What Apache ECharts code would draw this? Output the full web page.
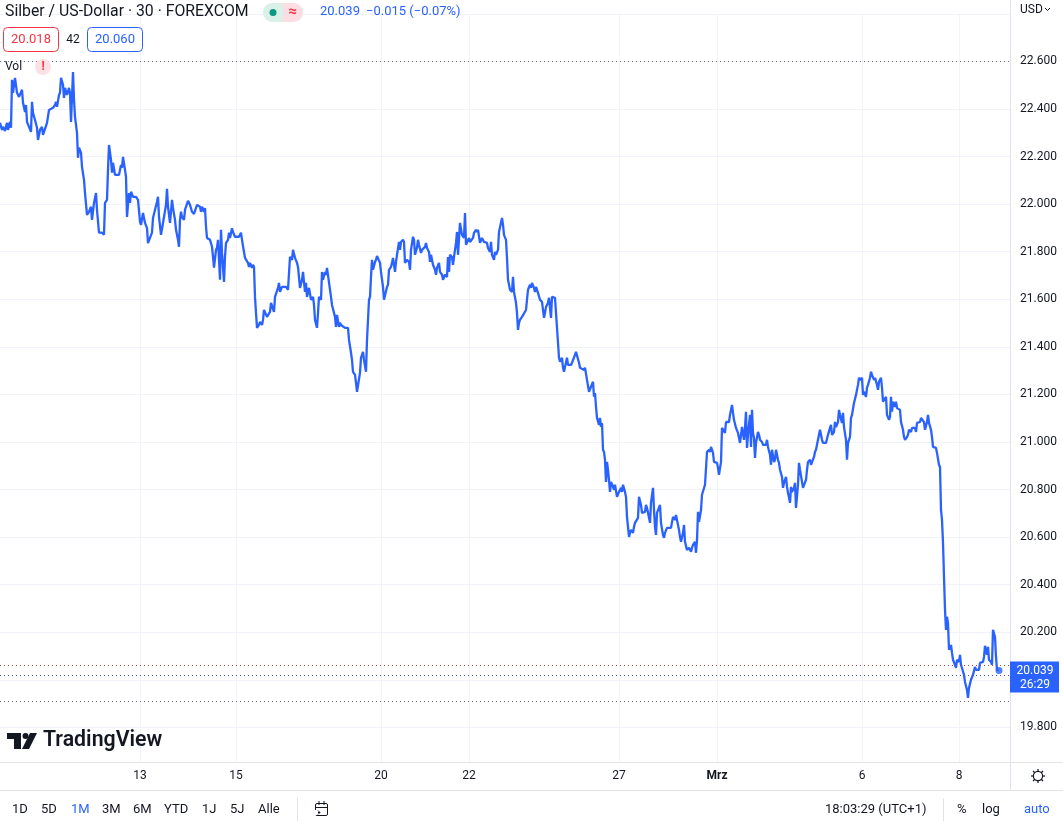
<!DOCTYPE html>
<html>
<head>
<meta charset="utf-8">
<script src="https://cdn.jsdelivr.net/npm/echarts@6/dist/echarts.min.js"></script>
<style>
html,body{margin:0;padding:0;background:#fff;}
#one{width:1063px;height:821px;}
</style>
</head>
<body>
<div id="one"></div>
<script>
// 30-Minuten-Kerzen, Index = Kerzennummer ab Chartbeginn
var barIdx = [
  0,2,3,5,7,8,10,11,12,13,15,16,17,19,22,23,25,26,27,29,31,32,33,35,37,38,40,42,43,45,47,49,51,53,55,56,57,59,60,61,63,64,65,67,69,70,71,73,74,75,77,78,79,81,82,84,85,87,89,91,92,94,96,97,99,102,104,105,107,108,109,111,112,113,115,117,119,121,122,123,125,126,127,129,130,131,133,136,138,140,141,143,
  145,147,148,150,152,153,155,157,158,159,161,162,164,166,167,168,170,171,172,173,175,176,178,179,180,181,182,184,185,186,188,190,192,194,195,197,198,200,201,202,204,205,206,207,208,210,212,213,214,216,217,218,220,221,222,224,225,226,228,229,230,232,233,235,237,239,241,242,244,245,246,248,249,250,252,253,254,255,256,257,259,260,262,263,264,266,267,268,270,271,272,274,275,276,278,279,280,282,284,286,288,
  290,292,293,295,297,298,300,302,303,305,306,307,309,310,311,313,314,315,317,318,319,321,322,323,325,326,327,329,331,332,333,335,336,337,339,340,341,343,345,348,349,351,352,353,355,356,357,359,360,361,363,364,366,367,369,370,371,372,373,375,376,377,379,380,381,383,384,385,387,388,389,391,392,393,395,396,397,399,400,401,403,404,405,407,409,410,411,413,414,415,417,418,419,421,422,423,425,426,427,429,430,431,433,435,436,437,439,
  440,442,443,445,447,448,449,450,452,453,454,456,457,458,460,461,462,464,465,466,468,469,470,472,473,474,476,477,478,480,481,482,484,485,487,488,490,491,492,494,495,496,498,499,500,502,503,504,506,507,508,509,510,512,513,514,516,517,518,519,520,522,523,524,526,527,528,530,531,532,534,535,536,538,539,540,542,543,544,545,546,548,549,550,551,552,554,555,556,558,559,560,562,563,564,566,567,568,570,571,572,574,575,576,578,579,580,582,584,
  585,586,587,589,590,591,593,594,595,596,597,599,600,601,602,603,604,605,606,607,608,609,610,611,613,614,615,617,618,619,621,622,623,625,626,627,629,630,631,633,634,635,637,638,639,641,642,643,645,646,647,649,650,651,653,654,655,656,657,659,660,661,663,664,665,667,669,671,672,673,675,676,677,679,680,681,683,684,685,687,688,689,691,692,693,695,696,697,698,699,701,702,703,705,706,707,709,710,711,713,714,715,717,718,719,721,722,723,725,726,
  727,729,730,732,733,734,736,737,738,740,741,742,744,745,746,747,748,750,751,752,753,754,755,756,758,759,760,762,763,764,766,767,768,770,771,772,774,775,776,778,779,780,782,783,784,786,787,788,790,791,792,794,795,796,798,799,800,802,803,804,806,807,808,810,811,812,814,815,816,818,819,820,822,823,824,826,827,828,830,831,832,834,835,836,838,839,840,842,843,844,846,847,848,850,851,852,854,855,856,858,859,860,862,863,864,866,867,868,870,871,872,874,
  875,877,878,879,881,882,883,885,886,887,889,890,891,892,893,895,896,897,899,900,901,903,904,905,907,908,909,911,912,913,915,916,917,919,920,921,923,924,925,927,928,929,931,932,933,935,936,937,939,940,941,942,943,944,945,946,947,948,949,951,952,953,955,956,957,959,960,961,963,964,965,967,968,969,971,972,973,975,976,977,979,980,981,983,984,985,987,988,989,991,992,993,995,996,997,999
];
var prices = [
  22.342,22.312,22.325,22.308,22.342,22.312,22.346,22.321,22.523,22.468,22.531,22.535,22.468,22.451,22.481,22.426,22.388,22.417,22.346,22.354,22.304,22.430,22.384,22.354,22.321,22.270,22.312,22.325,22.291,22.283,22.342,22.396,22.388,22.405,22.417,22.430,22.409,22.459,22.468,22.531,22.502,22.447,22.489,22.459,22.489,22.468,22.346,22.556,22.439,22.367,22.300,22.195,22.237,22.216,22.157,22.102,22.047,21.955,21.968,21.989,21.934,22.005,22.047,21.976,21.880,21.880,21.871,22.005,22.018,22.144,22.249,22.186,22.132,22.174,22.123,22.123,22.123,22.165,22.153,22.199,22.144,22.115,21.946,22.047,22.005,22.052,22.031,22.031,22.018,21.926,21.913,21.963,
  21.921,21.899,21.836,21.828,21.880,21.942,21.946,22.010,22.031,21.946,21.871,21.863,21.946,21.997,22.064,21.989,21.921,21.913,22.018,21.984,21.934,21.892,21.850,21.821,21.934,21.968,21.946,21.934,21.976,21.989,22.014,21.997,21.968,21.959,21.955,21.997,22.005,21.989,21.968,21.989,21.968,21.984,21.905,21.858,21.863,21.850,21.821,21.779,21.733,21.808,21.817,21.850,21.682,21.892,21.795,21.673,21.779,21.836,21.850,21.880,21.858,21.899,21.883,21.863,21.871,21.863,21.880,21.850,21.799,21.774,21.766,21.753,21.736,21.753,21.732,21.745,21.736,21.610,21.543,21.480,21.492,21.505,21.492,21.513,21.555,21.547,21.526,21.526,21.547,21.585,21.589,21.547,21.610,21.610,21.648,21.669,21.631,21.652,21.648,21.652,21.640,
  21.778,21.766,21.808,21.774,21.753,21.736,21.648,21.682,21.715,21.631,21.669,21.610,21.648,21.640,21.598,21.610,21.576,21.513,21.480,21.543,21.610,21.598,21.715,21.682,21.715,21.703,21.732,21.724,21.610,21.576,21.568,21.526,21.484,21.534,21.484,21.501,21.492,21.484,21.480,21.480,21.429,21.375,21.345,21.295,21.282,21.249,21.211,21.219,21.291,21.354,21.379,21.345,21.295,21.429,21.598,21.610,21.694,21.766,21.724,21.757,21.766,21.782,21.774,21.753,21.715,21.652,21.598,21.606,21.652,21.661,21.724,21.736,21.753,21.774,21.715,21.757,21.787,21.841,21.808,21.841,21.850,21.841,21.753,21.766,21.757,21.724,21.808,21.863,21.850,21.787,21.817,21.850,21.829,21.795,21.808,21.808,21.820,21.837,21.816,21.799,21.757,21.787,21.745,21.724,21.703,21.732,21.753,
  21.715,21.703,21.682,21.703,21.694,21.778,21.715,21.787,21.778,21.745,21.778,21.837,21.883,21.787,21.921,21.921,21.871,21.858,21.963,21.829,21.837,21.858,21.841,21.841,21.858,21.879,21.892,21.883,21.892,21.837,21.841,21.858,21.841,21.841,21.837,21.816,21.799,21.841,21.787,21.766,21.799,21.787,21.808,21.883,21.879,21.942,21.913,21.871,21.850,21.774,21.682,21.661,21.640,21.631,21.694,21.631,21.585,21.543,21.471,21.501,21.513,21.526,21.522,21.526,21.555,21.598,21.640,21.661,21.648,21.669,21.648,21.631,21.652,21.627,21.631,21.598,21.589,21.555,21.522,21.543,21.568,21.585,21.606,21.610,21.522,21.610,21.606,21.606,21.543,21.417,21.354,21.337,21.354,21.312,21.295,21.290,21.354,21.324,21.316,21.324,21.333,21.337,21.366,21.379,21.379,21.333,21.312,21.316,21.303,
  21.312,21.316,21.261,21.211,21.206,21.232,21.253,21.190,21.206,21.148,21.101,21.072,21.101,21.063,21.080,20.967,20.958,20.925,20.832,20.916,20.883,20.841,20.790,20.832,20.811,20.799,20.820,20.769,20.769,20.790,20.807,20.790,20.820,20.790,20.769,20.685,20.601,20.618,20.630,20.618,20.643,20.660,20.664,20.681,20.769,20.735,20.702,20.702,20.706,20.735,20.723,20.681,20.660,20.744,20.807,20.714,20.643,20.609,20.702,20.706,20.735,20.660,20.609,20.597,20.618,20.639,20.639,20.639,20.643,20.685,20.672,20.693,20.672,20.630,20.601,20.580,20.618,20.651,20.580,20.546,20.538,20.555,20.538,20.555,20.567,20.580,20.534,20.588,20.706,20.664,20.714,20.778,20.786,20.820,20.828,20.958,20.967,20.958,20.979,20.954,20.916,20.916,20.912,20.891,20.862,20.916,21.059,21.051,21.038,21.084,
  21.080,21.084,21.114,21.156,21.122,21.093,21.059,21.051,21.038,20.996,21.030,21.063,21.009,21.059,21.127,20.975,21.030,21.114,20.979,21.135,21.038,21.017,20.933,20.996,21.042,21.030,21.009,21.000,20.988,20.996,20.988,21.009,20.979,20.946,20.904,20.967,20.916,20.925,20.967,20.925,20.912,20.883,20.853,20.807,20.828,20.853,20.811,20.786,20.744,20.811,20.790,20.807,20.828,20.723,20.820,20.912,20.883,20.832,20.807,20.799,20.841,20.883,20.916,20.925,20.904,20.912,20.937,20.958,20.967,21.009,21.017,21.051,21.009,20.996,20.988,20.996,20.988,21.030,21.059,21.072,21.030,21.042,21.084,21.063,21.084,21.135,21.114,21.080,21.122,21.063,21.009,20.925,20.996,21.021,21.101,21.114,21.164,21.169,21.198,21.240,21.270,21.261,21.270,21.198,21.211,21.190,21.228,21.240,21.270,21.295,21.282,21.261,
  21.270,21.240,21.219,21.253,21.270,21.228,21.169,21.164,21.190,21.114,21.093,21.105,21.190,21.127,21.169,21.148,21.169,21.143,21.148,21.135,21.084,21.051,21.021,21.009,21.021,21.030,21.051,21.042,21.059,21.051,21.059,21.042,21.080,21.084,21.084,21.101,21.093,21.084,21.051,21.084,21.114,21.080,21.051,21.021,20.979,20.975,20.975,20.954,20.904,20.895,20.714,20.672,20.576,20.433,20.294,20.210,20.265,20.239,20.126,20.147,20.113,20.084,20.063,20.050,20.084,20.075,20.105,20.063,20.071,20.021,19.991,19.957,19.924,19.966,20.000,20.008,20.021,20.054,20.042,20.050,20.042,20.071,20.063,20.075,20.096,20.143,20.105,20.138,20.084,20.075,20.063,20.210,20.180,20.096,20.042,20.039
];
// Zeitachse
var dayTicks = [140, 236, 381, 469, 619, 717, 862, 959];
var dayLabels = ['13', '15', '20', '22', '27', 'Mrz', '6', '8'];
// Preislinien
var periodHigh = 22.598, periodLow = 19.915;
var askPrice = 20.060, bidPrice = 20.018;
var lastPrice = prices[prices.length - 1];

var FONT = 'Roboto, "Noto Sans", sans-serif';
var TXT = '#131722', BLUE = '#2962ff', RED = '#f23645', BORDER = '#e0e3eb', GRIDC = '#f0f3fa';

var mainContainer = document.getElementById('one');
var chart = echarts.init(mainContainer);

function txt(x, y, s, o) {
    return {type: 'text', x: x, y: y, z: 50,
        style: Object.assign({text: s, fill: TXT, font: '13px ' + FONT, textVerticalAlign: 'middle'}, o || {})};
}
function ln(x1, y1, x2, y2, c, w) {
    return {type: 'line', z: 40, shape: {x1: x1, y1: y1, x2: x2, y2: y2}, style: {stroke: c || BORDER, lineWidth: w || 1}};
}

var elements = [
    // Zeitachsen-Streifen
    {type: 'rect', z: 30, shape: {x: 0, y: 762, width: 1063, height: 59}, style: {fill: '#fff'}},
    ln(0, 762.5, 1063, 762.5), ln(0, 790.5, 1063, 790.5), ln(1010.5, 0, 1010.5, 790.5),
    // Kopfzeile
    txt(5, 12, 'Silber / US-Dollar · 30 · FOREXCOM', {font: '15.8px ' + FONT}),
    {type: 'rect', z: 50, shape: {x: 263, y: 3, width: 40, height: 19, r: 9.5}, style: {fill: '#fcdde3'}},
    {type: 'rect', z: 51, shape: {x: 263, y: 3, width: 20, height: 19, r: [9.5, 0, 0, 9.5]}, style: {fill: '#daf1ea'}},
    {type: 'circle', z: 52, shape: {cx: 273, cy: 12.5, r: 3.5}, style: {fill: '#089981'}},
    txt(292.5, 12, '≈', {fill: RED, font: 'bold 15px ' + FONT, textAlign: 'center'}),
    txt(320, 12, '20.039', {fill: BLUE}),
    txt(366, 12, '−0.015 (−0.07%)', {fill: BLUE}),
    {type: 'rect', z: 50, shape: {x: 3.5, y: 27.5, width: 55, height: 24, r: 4}, style: {fill: '#fff', stroke: RED, lineWidth: 1}},
    txt(31, 40, '20.018', {fill: RED, textAlign: 'center'}),
    txt(73, 40, '42', {font: '12px ' + FONT, textAlign: 'center'}),
    {type: 'rect', z: 50, shape: {x: 87.5, y: 27.5, width: 55, height: 24, r: 4}, style: {fill: '#fff', stroke: BLUE, lineWidth: 1}},
    txt(115, 40, '20.060', {fill: BLUE, textAlign: 'center'}),
    txt(5, 67, 'Vol', {font: '12px ' + FONT}),
    {type: 'circle', z: 50, shape: {cx: 43, cy: 67, r: 8}, style: {fill: '#fbe1e6'}},
    txt(43, 67, '!', {fill: RED, font: 'bold 12px ' + FONT, textAlign: 'center'}),
    txt(1020, 10, 'USD', {font: '12px ' + FONT}),
    {type: 'polyline', z: 50, shape: {points: [[1045, 8], [1047.5, 10.5], [1050, 8]]}, style: {stroke: TXT, lineWidth: 1, fill: null}},
    // Logo
    {type: 'polygon', z: 50, shape: {points: [[7, 733], [21, 733], [21, 749], [14, 749], [14, 739], [7, 739]]}, style: {fill: TXT}},
    {type: 'circle', z: 50, shape: {cx: 25.5, cy: 736, r: 3}, style: {fill: TXT}},
    {type: 'polygon', z: 50, shape: {points: [[30, 733], [37, 733], [29, 749], [22, 749]]}, style: {fill: TXT}},
    txt(43, 741, 'TradingView', {font: '600 21.3px ' + FONT}),
    // Zahnrad
    ln(1031, 776, 1045, 776, TXT, 1.2), ln(1038, 769, 1038, 783, TXT, 1.2),
    ln(1033, 771, 1043, 781, TXT, 1.2), ln(1043, 771, 1033, 781, TXT, 1.2),
    {type: 'circle', z: 41, shape: {cx: 1038, cy: 776, r: 4.6}, style: {fill: '#fff', stroke: TXT, lineWidth: 1.2}},
    // Fusszeile
    txt(12, 810, '1D'), txt(41, 810, '5D'), txt(71, 810, '1M', {fill: BLUE}), txt(102, 810, '3M'),
    txt(133, 810, '6M'), txt(164, 810, 'YTD'), txt(202, 810, '1J'), txt(230, 810, '5J'), txt(258, 810, 'Alle'),
    ln(297.5, 798, 297.5, 821),
    {type: 'rect', z: 50, shape: {x: 315.5, y: 803.5, width: 12, height: 12, r: 1.5}, style: {fill: null, stroke: TXT, lineWidth: 1}},
    ln(319, 801, 319, 805, TXT), ln(324, 801, 324, 805, TXT), ln(315.5, 807.5, 327.5, 807.5, TXT),
    {type: 'rect', z: 51, shape: {x: 312, y: 810, width: 6, height: 5}, style: {fill: '#fff'}},
    ln(312, 812.5, 320, 812.5, TXT), {type: 'polyline', z: 52, shape: {points: [[318, 810.5], [320, 812.5], [318, 814.5]]}, style: {stroke: TXT, fill: null}},
    txt(825, 810, '18:03:29 (UTC+1)'),
    ln(943.5, 798, 943.5, 821),
    txt(957, 810, '%'), txt(982, 810, 'log'), txt(1024, 810, 'auto', {fill: BLUE})
];

var lineData = barIdx.map(function (t, i) { return [t, prices[i]]; });

var option = {
    animation: false,
    backgroundColor: '#fff',
    textStyle: {fontFamily: FONT},
    grid: {left: 0, right: 53, top: 13.9, bottom: 46.1, containLabel: false, outerBoundsMode: 'none'},
    xAxis: [{
        type: 'value', position: 'top', min: 0, max: 1010,
        axisLine: {show: false}, axisLabel: {show: false},
        axisTick: {show: false, customValues: dayTicks},
        splitLine: {show: true, lineStyle: {color: GRIDC, width: 1}}
    }, {
        type: 'value', position: 'bottom', min: 0, max: 1010, offset: -13, z: 40,
        axisLine: {show: false}, axisTick: {show: false, customValues: dayTicks},
        splitLine: {show: false},
        axisLabel: {
            customValues: dayTicks, margin: 8, color: TXT, fontSize: 12, fontFamily: FONT,
            formatter: function (v) {
                var s = dayLabels[dayTicks.indexOf(v)];
                return s === 'Mrz' ? '{b|' + s + '}' : s;
            },
            rich: {b: {fontWeight: 'bold', fontSize: 12, color: TXT, fontFamily: FONT}}
        }
    }],
    yAxis: {
        type: 'value', position: 'right', min: 19.6, max: 22.8, interval: 0.2,
        axisLine: {show: false}, axisTick: {show: false},
        axisLabel: {
            margin: 10, color: TXT, fontSize: 12, fontFamily: FONT, align: 'left',
            showMinLabel: false, showMaxLabel: false,
            formatter: function (v) { return v.toFixed(3); }
        },
        splitLine: {lineStyle: {color: GRIDC, width: 1}}
    },
    series: [{
        type: 'line', xAxisIndex: 0, data: lineData, showSymbol: false, z: 3,
        lineStyle: {color: BLUE, width: 2.3}, itemStyle: {color: BLUE},
        markLine: {
            silent: true, symbol: ['none', 'none'], label: {show: false},
            lineStyle: {type: [1, 3], width: 1},
            data: [
                {yAxis: periodHigh, lineStyle: {color: '#6a6d78'}},
                {yAxis: askPrice, lineStyle: {color: '#a8474f'}},
                {yAxis: bidPrice, lineStyle: {color: '#3f55a8'}},
                {yAxis: periodLow, lineStyle: {color: '#6a6d78'}}
            ]
        }
    }, {
        type: 'scatter', xAxisIndex: 0, z: 4, symbolSize: 7,
        data: [[barIdx[barIdx.length - 1], lastPrice]],
        itemStyle: {color: BLUE}
    }],
    graphic: {elements: elements}
};
chart.setOption(option);

// Kursmarke an der Preisachse
var py = chart.convertToPixel({yAxisIndex: 0}, lastPrice);
elements.push(
    {type: 'rect', z: 60, shape: {x: 1010, y: py - 9, width: 49, height: 31}, style: {fill: BLUE}},
    txt(1035, py, lastPrice.toFixed(3), {fill: '#fff', font: '12px ' + FONT, textAlign: 'center'}),
    txt(1035, py + 14.5, '26:29', {fill: '#fff', font: '12px ' + FONT, textAlign: 'center'})
);
elements[elements.length - 2].z = 61;
elements[elements.length - 1].z = 61;
chart.setOption(option, true);
</script>
</body>
</html>
